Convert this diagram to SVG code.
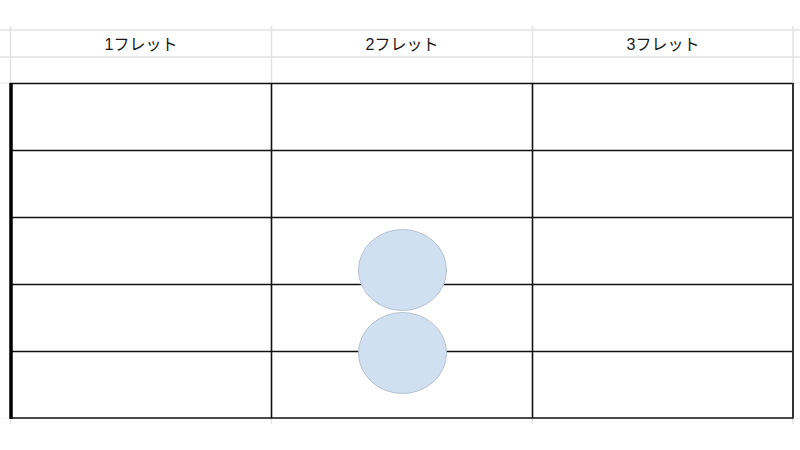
<svg xmlns="http://www.w3.org/2000/svg" width="800" height="450" viewBox="0 0 800 450">
<style>
.grid{stroke:#e2e2e2;stroke-width:1.5;fill:none}
.cell{stroke:#111;stroke-width:1.6;fill:none}
.hdr{font-family:"Liberation Sans","Noto Sans CJK JP",sans-serif;font-size:16px;fill:#1a1a1a;text-anchor:middle}
.dot{fill:#d0e0f0;stroke:#b4c2d2;stroke-width:1}
</style>
<rect width="800" height="450" fill="#fff"/>
<g id="gridlines">
<line class="grid" x1="0" y1="30" x2="800" y2="30"/>
<line class="grid" x1="0" y1="57" x2="800" y2="57"/>
<line class="grid" x1="0" y1="83.5" x2="800" y2="83.5"/>
<line class="grid" x1="0" y1="150" x2="10" y2="150"/>
<line class="grid" x1="0" y1="217" x2="10" y2="217"/>
<line class="grid" x1="0" y1="284" x2="10" y2="284"/>
<line class="grid" x1="0" y1="351" x2="10" y2="351"/>
<line class="grid" x1="0" y1="418" x2="800" y2="418"/>
<line class="grid" x1="10.5" y1="26" x2="10.5" y2="424"/>
<line class="grid" x1="271.5" y1="26" x2="271.5" y2="424"/>
<line class="grid" x1="532.5" y1="26" x2="532.5" y2="424"/>
<line class="grid" x1="793" y1="26" x2="793" y2="424"/>
</g>
<g id="headers">
<text class="hdr" x="141" y="50">1フレット</text>
<text class="hdr" x="402" y="50">2フレット</text>
<text class="hdr" x="663" y="50">3フレット</text>
</g>
<g id="fretboard">
<rect x="0" y="83.5" width="800" height="335" fill="#fff"/>
<line class="cell" x1="10" y1="83.5" x2="793" y2="83.5"/>
<line class="cell" x1="10" y1="150.5" x2="793" y2="150.5"/>
<line class="cell" x1="10" y1="217.5" x2="793" y2="217.5"/>
<line class="cell" x1="10" y1="284.5" x2="793" y2="284.5"/>
<line class="cell" x1="10" y1="351.5" x2="793" y2="351.5"/>
<line class="cell" x1="10" y1="418" x2="793" y2="418"/>
<line class="cell" x1="271.5" y1="83.5" x2="271.5" y2="418"/>
<line class="cell" x1="532.5" y1="83.5" x2="532.5" y2="418"/>
<line x1="793" y1="83" x2="793" y2="418.5" stroke="#333" stroke-width="2"/>
<line x1="11" y1="83" x2="11" y2="419" stroke="#000" stroke-width="3.5"/>
</g>
<g id="dot1"><ellipse class="dot" cx="402.5" cy="270" rx="44" ry="40.5"/></g>
<g id="dot2"><ellipse class="dot" cx="402.5" cy="353" rx="44" ry="40.5"/></g>
</svg>
